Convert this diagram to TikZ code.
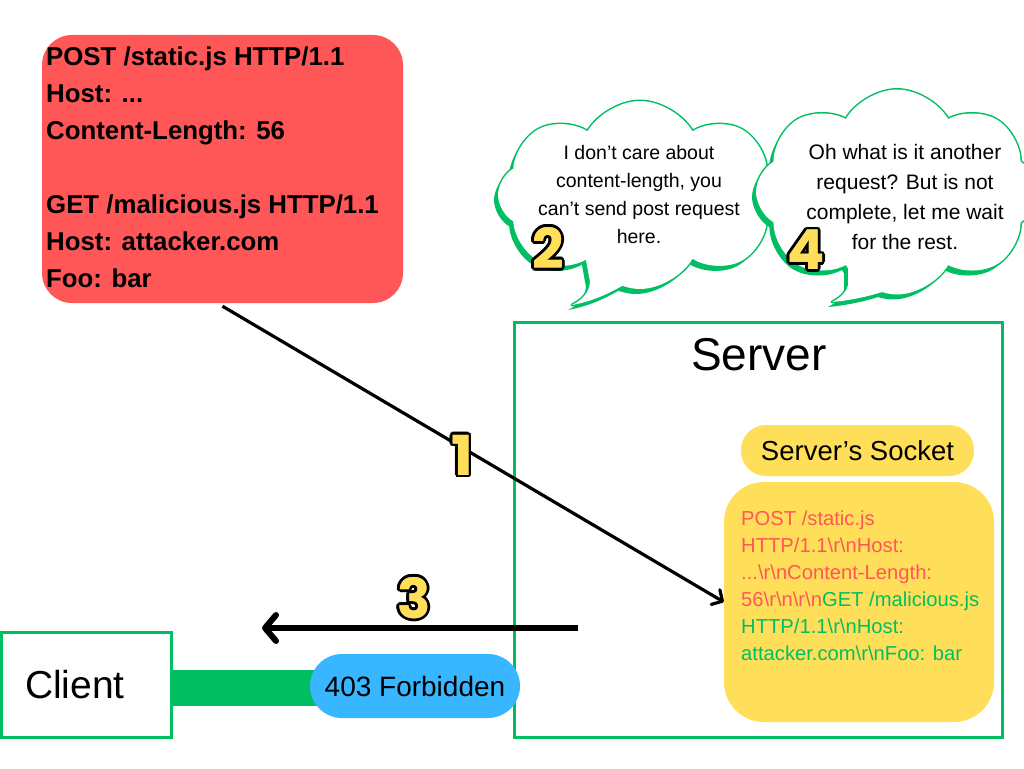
\documentclass[tikz,border=0pt]{standalone}
\usepackage{fontspec}
\setmainfont{Liberation Sans}
\newfontfamily\numfont{Poppins}
\usetikzlibrary{arrows.meta,shapes.symbols}
\definecolor{boxred}{HTML}{FF5757}
\definecolor{cgreen}{HTML}{00BF63}
\definecolor{syellow}{HTML}{FFDE59}
\definecolor{pblue}{HTML}{38B6FF}
\definecolor{numyel}{HTML}{FFDE59}
\newcommand\bsl{\textbackslash}
\newcommand\olcopy[3]{\rlap{\kern#1\raisebox{#2}{\textcolor{black}{#3}}}}
\newcommand\olnum[1]{\leavevmode
 \olcopy{2.8pt}{0pt}{#1}\olcopy{-2.8pt}{0pt}{#1}\olcopy{0pt}{2.8pt}{#1}\olcopy{0pt}{-2.8pt}{#1}%
 \olcopy{2pt}{2pt}{#1}\olcopy{-2pt}{2pt}{#1}\olcopy{2pt}{-2pt}{#1}\olcopy{-2pt}{-2pt}{#1}%
 \olcopy{2.6pt}{1.1pt}{#1}\olcopy{-2.6pt}{1.1pt}{#1}\olcopy{2.6pt}{-1.1pt}{#1}\olcopy{-2.6pt}{-1.1pt}{#1}%
 \olcopy{1.1pt}{2.6pt}{#1}\olcopy{-1.1pt}{2.6pt}{#1}\olcopy{1.1pt}{-2.6pt}{#1}\olcopy{-1.1pt}{-2.6pt}{#1}%
 \rlap{\kern0.5pt\textcolor{numyel}{#1}}\textcolor{numyel}{#1}}
\begin{document}
\begin{tikzpicture}[x=1pt,y=-1pt,
  cloudshape/.style={cloud, cloud puffs=8, cloud puff arc=120, cloud ignores aspect, inner sep=0pt},
  numlbl/.style={font=\numfont\bfseries\fontsize{55}{55}\selectfont, inner sep=0pt},
  bubtext/.style={align=center, inner sep=0pt},
  greenbox/.style={draw=cgreen, line width=3pt, inner sep=0pt}]
\fill[white] (0,0) rectangle (1024,768);
\useasboundingbox (0,0) rectangle (1024,768);

% red request box
\node[fill=boxred, rounded corners=30pt, minimum width=361pt, minimum height=268pt, inner sep=0pt] (redbox) at (222.5,169) {};
\node[anchor=north west, align=left, inner sep=0pt, font=\bfseries\fontsize{25.8}{37}\selectfont] (redtxt) at (46,47)
  {POST /static.js HTTP/1.1\\Host: ...\\Content-Length: 56\\[37pt]GET /malicious.js HTTP/1.1\\Host: attacker.com\\Foo: bar};

% cloud 1 (shadow, outline, interior)
\node[cloudshape, fill=cgreen, minimum width=284pt, minimum height=188pt] (c1s) at (636,200) {};
\fill[cgreen] (581,260) -- (586,287) .. controls (585,298) and (578,305) .. (568,310) .. controls (590,306) and (609,297) .. (626,286) -- (624,260) -- cycle;
\node[cloudshape, fill=cgreen, draw=cgreen, line width=3pt, minimum width=284pt, minimum height=188pt] (c1o) at (640,195) {};
\filldraw[cgreen, line width=3pt, line join=round] (585,255) -- (590,282) .. controls (589,293) and (582,300) .. (572,305) .. controls (594,301) and (613,292) .. (630,281) -- (628,255) -- cycle;
\node[cloudshape, fill=white, minimum width=284pt, minimum height=188pt] (c1) at (640,195) {};
\fill[white] (585,255) -- (590,282) .. controls (589,293) and (582,300) .. (572,305) .. controls (594,301) and (613,292) .. (630,281) -- (628,255) -- cycle;
\node[bubtext, font=\fontsize{19.5}{28}\selectfont] (t1) at (639,195)
  {I don’t care about\\content-length, you\\can’t send post request\\here.};

% cloud 2
\node[cloudshape, fill=cgreen, minimum width=282pt, minimum height=205pt] (c2s) at (893,197) {};
\fill[cgreen] (844,265) -- (844,290) .. controls (842,298) and (836,303) .. (828,307) .. controls (851,305) and (876,299) .. (894,291) -- (891,265) -- cycle;
\node[cloudshape, fill=cgreen, draw=cgreen, line width=3pt, minimum width=282pt, minimum height=205pt] (c2o) at (897,192) {};
\filldraw[cgreen, line width=3pt, line join=round] (848,260) -- (848,285) .. controls (846,293) and (840,298) .. (832,302) .. controls (855,300) and (880,294) .. (898,286) -- (895,260) -- cycle;
\node[cloudshape, fill=white, minimum width=282pt, minimum height=205pt] (c2) at (897,192) {};
\fill[white] (848,260) -- (848,285) .. controls (846,293) and (840,298) .. (832,302) .. controls (855,300) and (880,294) .. (898,286) -- (895,260) -- cycle;
\node[bubtext, font=\fontsize{21}{30}\selectfont] (t2) at (905,197)
  {Oh what is it another\\request? But is not\\complete, let me wait\\for the rest.};

% server
\node[greenbox, minimum width=488pt, minimum height=415pt] (server) at (758,529.5) {};
\node[font=\fontsize{46}{46}\selectfont, inner sep=0pt] (srvlbl) at (759,355) {Server};
\node[fill=syellow, rounded corners=25pt, minimum width=233pt, minimum height=51pt, inner sep=0pt, font=\fontsize{27.5}{27.5}\selectfont] (socklbl) at (857.5,450.5) {Server’s Socket};
\node[fill=syellow, rounded corners=40pt, minimum width=270pt, minimum height=240pt, inner sep=0pt] (sockbox) at (859,602) {};
\node[anchor=north west, align=left, inner sep=0pt, font=\fontsize{20.2}{27}\selectfont] (socktxt) at (741,511)
  {\textcolor{boxred}{POST /static.js}\\
   \textcolor{boxred}{HTTP/1.1\bsl r\bsl nHost:}\\
   \textcolor{boxred}{...\bsl r\bsl nContent-Length:}\\
   \textcolor{boxred}{56\bsl r\bsl n\bsl r\bsl n}\textcolor{cgreen}{GET /malicious.js}\\
   \textcolor{cgreen}{HTTP/1.1\bsl r\bsl nHost:}\\
   \textcolor{cgreen}{attacker.com\bsl r\bsl nFoo: bar}};

% client
\node[greenbox, fill=white, minimum width=170pt, minimum height=105pt] (client) at (86,684.5) {};
\node[font=\fontsize{39}{39}\selectfont, inner sep=0pt] (clbl) at (75,685) {Client};
\node[fill=cgreen, minimum width=160pt, minimum height=36pt, inner sep=0pt, anchor=west] (bar) at (172,688) {};
\node[fill=pblue, rounded corners=32pt, minimum width=210pt, minimum height=64pt, inner sep=0pt, font=\fontsize{28}{28}\selectfont] (forb) at (415,686) {403 Forbidden};

% arrows
\draw[line width=3.2pt, -{Straight Barb[length=8pt,width=17pt,round]}] ([yshift=-3pt]redbox.south) -- (sockbox.west);
\coordinate (a3s) at (578,628);
\coordinate (a3e) at (262,628);
\draw[line width=6pt, -{Straight Barb[length=11pt,width=26pt,round]}] (a3s) -- (a3e);

% step numbers
\node[numlbl] (n1) at (462,455) {\olnum{1}};
\node[numlbl] (n2) at (548,248) {\olnum{2}};
\node[numlbl] (n3) at (414,598) {\olnum{3}};
\node[numlbl] (n4) at (806,250) {\olnum{4}};
\end{tikzpicture}
\end{document}
